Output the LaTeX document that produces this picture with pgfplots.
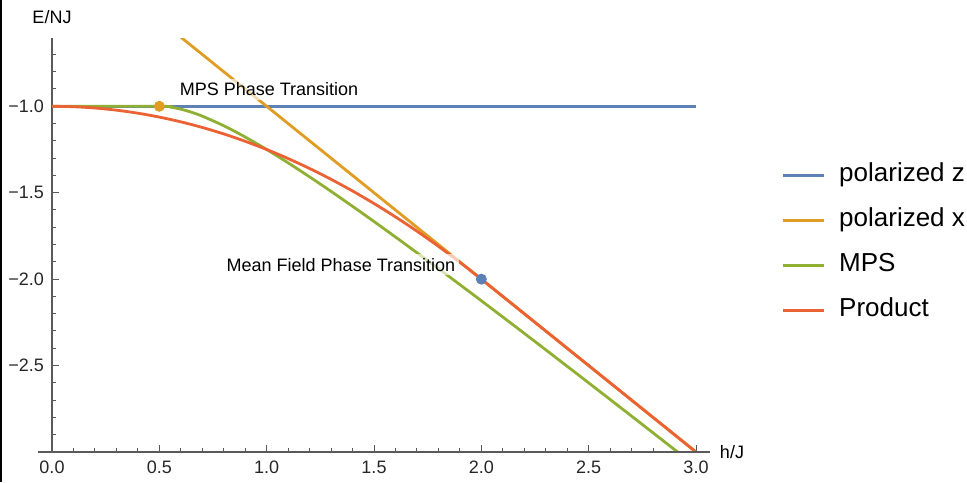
\documentclass[border=0pt]{standalone}
\usepackage{fontspec}
\setmainfont{Liberation Sans}
\usepackage{pgfplots}
\pgfplotsset{compat=1.18}

\definecolor{mblue}{HTML}{5E81B5}
\definecolor{morange}{HTML}{E19C24}
\definecolor{mgreen}{HTML}{8FB032}
\definecolor{mred}{HTML}{EB6235}
\definecolor{axgray}{HTML}{5A5A5A}

\begin{document}
\begin{tikzpicture}
\useasboundingbox (-26pt,-15pt) rectangle (457.5pt,226pt);
\draw[black, line width=0.8pt] (-25.6pt,-15pt) -- (-25.6pt,226pt);
\begin{axis}[
  at={(0,0)}, anchor=south west,
  scale only axis, width=322pt, height=207pt,
  xmin=0, xmax=3, ymin=-3.0, ymax=-0.605,
  axis x line*=bottom, axis y line*=left,
  axis line style={axgray, line width=0.6pt, -},
  clip mode=individual,
  xtick={0,0.5,1,1.5,2,2.5,3},
  xticklabels={0.0,0.5,1.0,1.5,2.0,2.5,3.0},
  minor xtick={0.1,0.2,0.3,0.4,0.6,0.7,0.8,0.9,1.1,1.2,1.3,1.4,1.6,1.7,1.8,1.9,2.1,2.2,2.3,2.4,2.6,2.7,2.8,2.9},
  ytick={-2.5,-2,-1.5,-1},
  yticklabels={−2.5,−2.0,−1.5,−1.0},
  minor ytick={-2.9,-2.8,-2.7,-2.6,-2.4,-2.3,-2.2,-2.1,-1.9,-1.8,-1.7,-1.6,-1.4,-1.3,-1.2,-1.1,-0.9,-0.8,-0.7,-0.6},
  tick align=inside,
  major tick length=3.5pt, minor tick length=2pt,
  tick style={axgray, line width=0.5pt},
  ticklabel style={font=\fontsize{9}{11}\selectfont, text=black!85},
  xticklabel style={yshift=-1pt},
  yticklabel style={xshift=-0.5pt},
  legend style={at={(1.132,0.505)}, anchor=west, draw=none, fill=none,
    inner sep=0pt, font=\fontsize{13}{15}\selectfont, row sep=10pt,
    nodes={text height=9.5pt, text depth=3pt, inner sep=0pt}},
  legend cell align=left,
  legend image code/.code={\draw[#1, line width=1.4pt] (0pt,0pt) -- (20.5pt,0pt);},
  every axis plot/.append style={line width=1.4pt},
]
\addplot[mblue] coordinates {(0,-1) (3,-1)};
\addlegendentry{\hspace{7pt}polarized z}
\addplot[morange] coordinates {(0.6,-0.6) (3,-3)};
\addlegendentry{\hspace{7pt}polarized x}
\addplot[mgreen, smooth] coordinates {
(0,-1) (0.5,-1.0) (0.55,-1.0045) (0.6,-1.0167) (0.65,-1.0346) (0.7,-1.0571)
(0.8,-1.1125) (0.9,-1.1778) (1.0,-1.25) (1.1,-1.3273) (1.2,-1.4083)
(1.3,-1.4923) (1.4,-1.5786) (1.5,-1.6667) (1.6,-1.7563) (1.7,-1.8471)
(1.8,-1.9389) (1.9,-2.0316) (2.0,-2.125) (2.2,-2.3136) (2.4,-2.5042)
(2.6,-2.6962) (2.8,-2.8893) (3.0,-3.0833)};
\addlegendentry{\hspace{7pt}MPS}
\addplot[mred, smooth] coordinates {
(0,-1) (0.1,-1.0025) (0.2,-1.01) (0.3,-1.0225) (0.4,-1.04) (0.5,-1.0625)
(0.6,-1.09) (0.7,-1.1225) (0.8,-1.16) (0.9,-1.2025) (1.0,-1.25)
(1.1,-1.3025) (1.2,-1.36) (1.3,-1.4225) (1.4,-1.49) (1.5,-1.5625)
(1.6,-1.64) (1.7,-1.7225) (1.8,-1.81) (1.9,-1.9025) (2.0,-2.0)};
\addlegendentry{\hspace{7pt}Product}
\addplot[mred, forget plot] coordinates {(2.0,-2.0) (3.0,-3.0)};
\addplot[only marks, mark=*, mark size=2pt, morange, forget plot] coordinates {(0.5,-1)};
\addplot[only marks, mark=*, mark size=2pt, mblue, forget plot] coordinates {(2,-2)};
\draw[axgray, line width=0.6pt] (axis cs:-0.065,-3.0) -- (axis cs:3.065,-3.0);
\node[fill=white, fill opacity=0.65, text opacity=1, inner sep=2pt,
  font=\fontsize{9}{11}\selectfont] at (axis cs:1.011,-0.901) {MPS Phase Transition};
\node[fill=white, fill opacity=0.65, text opacity=1, inner sep=2pt,
  font=\fontsize{9}{11}\selectfont] at (axis cs:1.346,-1.917) {Mean Field Phase Transition};
\node[font=\fontsize{9}{11}\selectfont] at ([yshift=10.5pt]rel axis cs:0,1) {E/NJ};
\node[font=\fontsize{9}{11}\selectfont] at ([xshift=18pt]rel axis cs:1,0) {h/J};
\end{axis}
\end{tikzpicture}
\end{document}
